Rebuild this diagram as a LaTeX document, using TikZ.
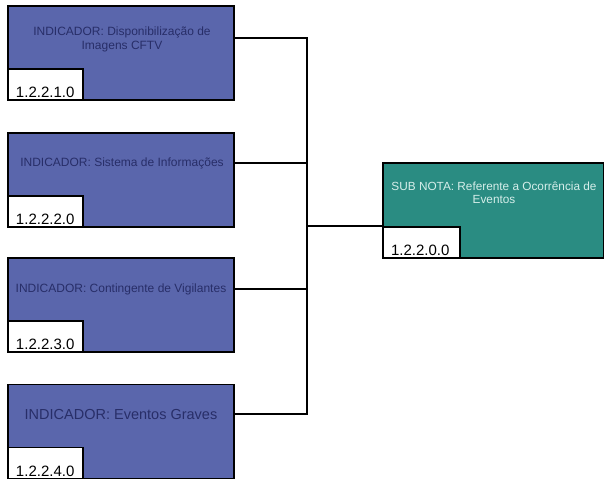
\documentclass[tikz,border=0pt]{standalone}
\usepackage{fontspec}
\setmainfont{Liberation Sans}
\definecolor{indblue}{RGB}{90,102,172}
\definecolor{indtext}{RGB}{40,46,104}
\definecolor{subgreen}{RGB}{42,140,130}
\definecolor{subtext}{RGB}{214,238,234}
\tikzset{
  indbox/.style={draw=black, line width=1.3pt, fill=indblue, minimum width=226pt, minimum height=94pt, inner sep=0pt},
  subbox/.style={draw=black, line width=1.3pt, fill=subgreen, minimum width=221pt, minimum height=95pt, inner sep=0pt},
  codebox/.style={draw=black, line width=1.3pt, fill=white, anchor=south west, inner xsep=8pt, inner ysep=1.5pt,
    text width=59pt, align=left, text height=27pt, text depth=1pt, font=\fontsize{15}{17}\selectfont},
  indlabel/.style={text=indtext, align=center, font=\fontsize{12}{14}\selectfont},
  sublabel/.style={text=subtext, align=center, font=\fontsize{11.8}{13.5}\selectfont},
  wire/.style={line width=1.2pt}
}
\begin{document}
\begin{tikzpicture}[x=1pt,y=-1pt]
\useasboundingbox (0,0) rectangle (604,479);

% indicator boxes
\node[indbox] (b1) at (121,53) {};
\node[indbox] (b2) at (121,180) {};
\node[indbox] (b3) at (121,305) {};
\node[indbox] (b4) at (121,431.5) {};

\node[indlabel] (t1) at (122,39) {INDICADOR: Disponibilização de\\Imagens CFTV};
\node[indlabel] (t2) at (122,163) {INDICADOR: Sistema de Informações};
\node[indlabel] (t3) at (121,289) {INDICADOR: Contingente de Vigilantes};
\node[indlabel, font=\fontsize{14.5}{16}\selectfont] (t4) at (121,415) {INDICADOR: Eventos Graves};

\node[codebox] (c1) at (b1.south west) {1.2.2.1.0};
\node[codebox] (c2) at (b2.south west) {1.2.2.2.0};
\node[codebox] (c3) at (b3.south west) {1.2.2.3.0};
\node[codebox] (c4) at (b4.south west) {1.2.2.4.0};

% sub nota
\node[subbox] (s1) at (493.5,210.5) {};
\node[sublabel] (ts) at (494,193) {SUB NOTA: Referente a Ocorrência de\\Eventos};
\node[codebox, text width=61pt] (cs) at (s1.south west) {1.2.2.0.0};

% connectors
\coordinate (bus) at (307,226);
\draw[wire] (b1.east |- 0,38) -| (bus);
\draw[wire] (b2.east |- t2) -| (bus);
\draw[wire] (b3.east |- t3) -| (bus);
\draw[wire] (b4.east |- 0,414) -| (bus);
\draw[wire] (bus) -- (s1.west |- bus);
\end{tikzpicture}
\end{document}
